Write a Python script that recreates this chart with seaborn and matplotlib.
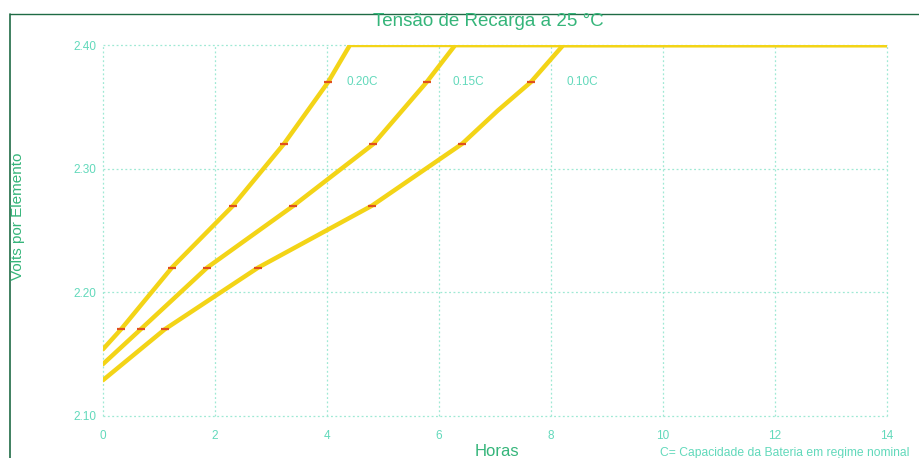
import matplotlib
matplotlib.use("Agg")
import matplotlib.pyplot as plt
import seaborn as sns
import pandas as pd
from matplotlib.lines import Line2D

# Data
series_names = ["0.20C", "0.15C", "0.10C"]
hours_020 = [0.0, 0.32, 1.23, 2.32, 3.23, 4.02, 4.41, 14.0]
volts_020 = [2.154, 2.17, 2.22, 2.27, 2.32, 2.37, 2.40, 2.40]
hours_015 = [0.0, 0.67, 1.86, 3.40, 4.83, 5.78, 6.29, 14.0]
volts_015 = [2.142, 2.17, 2.22, 2.27, 2.32, 2.37, 2.40, 2.40]
hours_010 = [0.0, 1.10, 2.77, 4.80, 6.41, 7.05, 7.64, 8.22, 14.0]
volts_010 = [2.129, 2.17, 2.22, 2.27, 2.32, 2.347, 2.37, 2.40, 2.40]
tick_idx_020 = [1, 2, 3, 4, 5]
tick_idx_015 = [1, 2, 3, 4, 5]
tick_idx_010 = [1, 2, 3, 4, 6]
label_x = [4.34, 6.25, 8.27]
label_y = 2.37
x_ticks = [0, 2, 4, 6, 8, 10, 12, 14]
y_ticks = [2.10, 2.20, 2.30, 2.40]
y_tick_labels = ["2.10", "2.20", "2.30", "2.40"]

title = "Tensão de Recarga a 25 °C"
xlabel = "Horas"
ylabel = "Volts por Elemento"
footnote = "C= Capacidade da Bateria em regime nominal"

sns.set_theme(style="white")
plt.rcParams['font.family'] = ['Liberation Sans', 'DejaVu Sans']

frames = []
for name, hx, vy in zip(series_names, [hours_020, hours_015, hours_010],
                        [volts_020, volts_015, volts_010]):
    frames.append(pd.DataFrame({"Horas": hx, "Volts": vy, "Serie": name}))
df = pd.concat(frames, ignore_index=True)

fig = plt.figure(figsize=(9.19, 4.58), dpi=100)
ax = fig.add_axes([103/919, 1-416/458, 784/919, 371/458])

line_col = "#f3d417"
sns.lineplot(data=df, x="Horas", y="Volts", units="Serie", estimator=None,
             sort=False, color=line_col, linewidth=3.2, ax=ax, legend=False)

# red tick marks along curves
for hx, vy, idx in zip([hours_020, hours_015, hours_010],
                       [volts_020, volts_015, volts_010],
                       [tick_idx_020, tick_idx_015, tick_idx_010]):
    ax.scatter([hx[i] for i in idx], [vy[i] for i in idx], marker="_",
               s=30, linewidths=1.6, color="#e0501e", zorder=5)

text_col = "#62d9bb"
for name, lx in zip(series_names, label_x):
    ax.text(lx, label_y, name, color=text_col, fontsize=8.5, va="center", ha="left")

ax.set_xlim(0, 14)
ax.set_ylim(2.10, 2.40)
ax.set_xticks(x_ticks)
ax.set_yticks(y_ticks)
ax.set_yticklabels(y_tick_labels)
ax.tick_params(colors=text_col, labelsize=8.5, length=0)
ax.tick_params(axis="y", pad=5)
ax.tick_params(axis="x", pad=10)
ax.grid(True, color="#9fe9d4", linestyle=(0, (1.5, 2)), linewidth=0.9)
for gl in ax.get_xgridlines() + ax.get_ygridlines():
    gl.set_clip_on(False)
ax.set_axisbelow(True)
for s in ax.spines.values():
    s.set_visible(False)
ax.set_xlabel("")
ax.set_ylabel("")

green = "#35b57a"
fig.text(488/919, 1-21/458, title, color=green, fontsize=13.5, ha="center", va="center")
fig.text(497/919, 1-451/458, xlabel, color=green, fontsize=12, ha="center", va="center")
fig.text(18/919, 1-216/458, ylabel, color=green, fontsize=11, ha="center",
         va="center", rotation=90)
fig.text(660/919, 1-453/458, footnote, color=text_col, fontsize=8.7, ha="left", va="center")

# frame lines (top and left)
fig.add_artist(Line2D([10/919, 10/919], [0, 1-14/458], color="#1f6b45", linewidth=1.2,
                      transform=fig.transFigure))
fig.add_artist(Line2D([10/919, 1], [1-14/458, 1-14/458], color="#1f6b45", linewidth=1.0,
                      transform=fig.transFigure))

fig.savefig("out.png", dpi=100)
